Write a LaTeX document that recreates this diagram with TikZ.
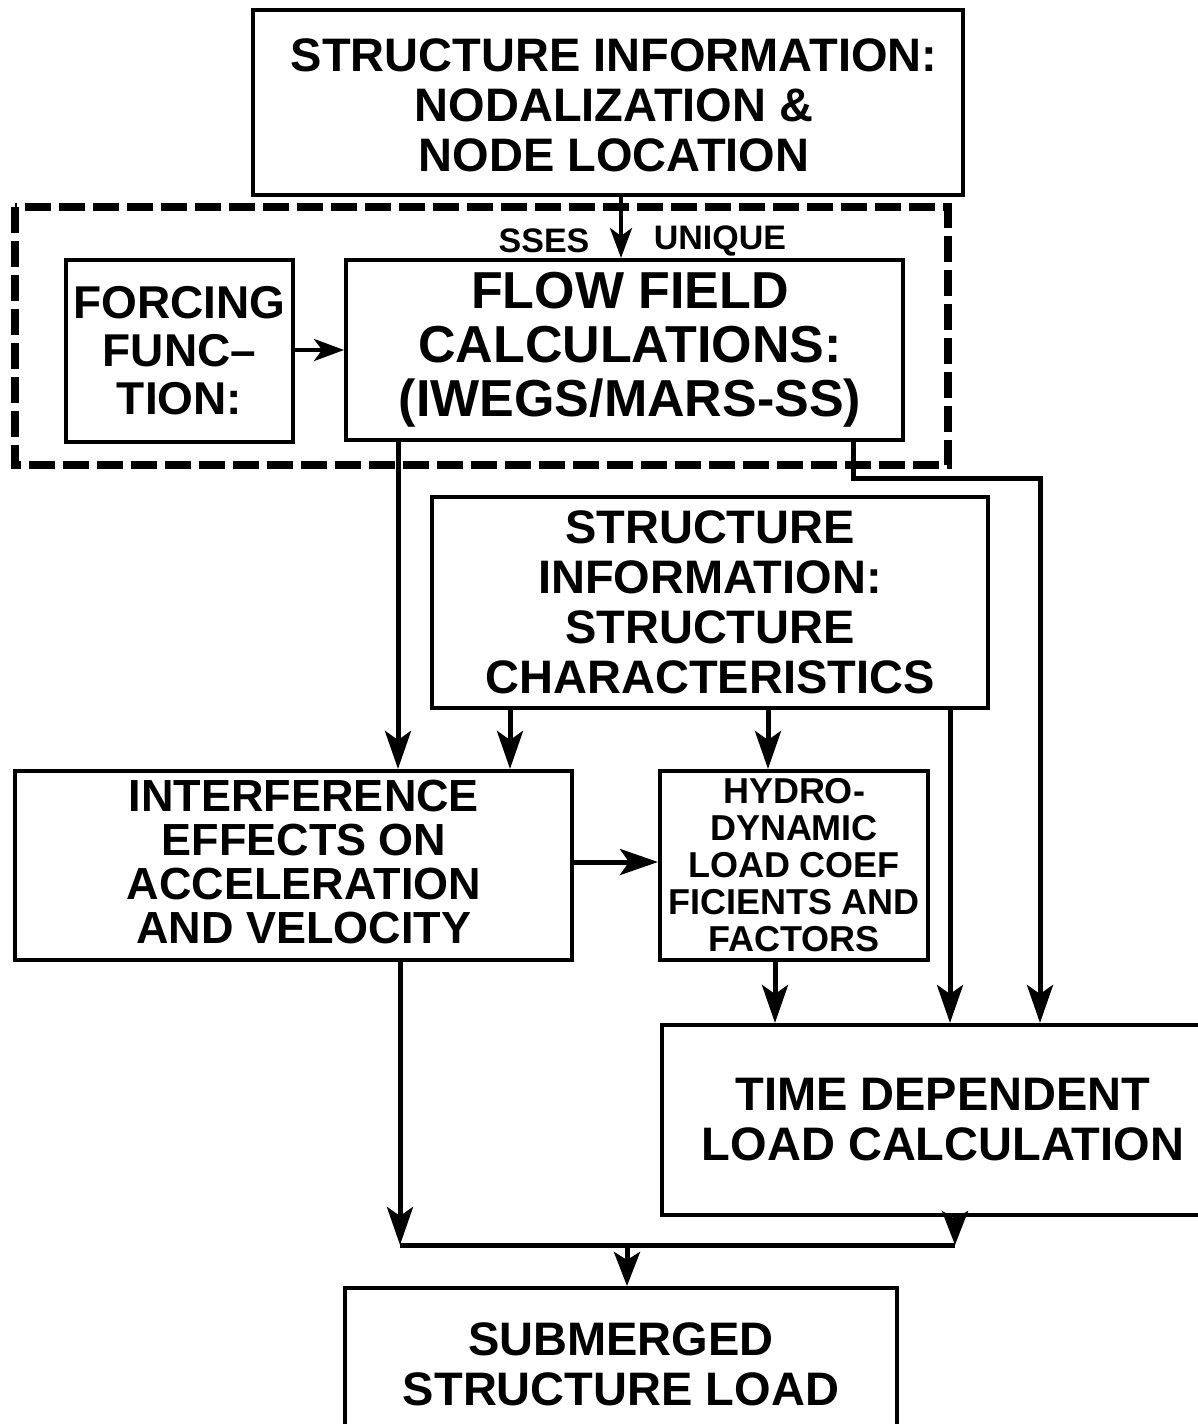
\documentclass[tikz,border=0pt]{standalone}
\usepackage{fontspec}
\setmainfont{Liberation Sans}
\usetikzlibrary{arrows.meta}
\begin{document}
\begin{tikzpicture}[x=1pt,y=-1pt,
  box/.style={draw, line width=4pt, align=center, inner sep=0pt},
  arr/.style={line width=5pt, -{Stealth[length=38pt,width=26pt,inset=9pt]}},
  shortarr/.style={line width=5pt, -{Stealth[length=34pt,width=26pt,inset=8pt]}},
  smallarr/.style={line width=4pt, -{Stealth[length=30pt,width=22pt,inset=8pt]}},
  ln/.style={line width=5pt},
  dashbox/.style={line width=8pt, dash pattern=on 26pt off 8pt},
  fA/.style={font=\fontsize{47}{50}\selectfont\bfseries},
  fB/.style={font=\fontsize{52}{54}\selectfont\bfseries},
  fC/.style={font=\fontsize{45}{44}\selectfont\bfseries},
  fD/.style={font=\fontsize{36}{37}\selectfont\bfseries},
  fE/.style={font=\fontsize{46}{48}\selectfont\bfseries},
  fS/.style={font=\fontsize{34}{36}\selectfont\bfseries}]
\useasboundingbox (0,0) rectangle (1198,1424);
\clip (0,0) rectangle (1198,1424);

% boxes
\node[box, minimum width=710pt, minimum height=185pt] (top) at (608,102.5) {};
\node[fA, align=center, inner sep=0pt] (toptext) at (614,105)
  {STRUCTURE INFORMATION:\\NODALIZATION \&\\NODE LOCATION};
\node[box, fE, minimum width=227pt, minimum height=182pt] (force) at (179.5,351)
  {FORCING\\FUNC–\\TION:};
\node[box, minimum width=557pt, minimum height=180pt] (flow) at (624.5,350) {};
\node[fB, align=center, inner sep=0pt] (flowtext) at (630,350)
  {FLOW FIELD\\CALCULATIONS:\\(IWEGS/MARS-SS)};
\node[box, fA, minimum width=556pt, minimum height=211pt] (chr) at (710,602.5)
  {STRUCTURE\\INFORMATION:\\STRUCTURE\\CHARACTERISTICS};
\node[box, minimum width=557pt, minimum height=189pt] (intf) at (293.5,865.5) {};
\node[fC, align=center, inner sep=0pt] (intftext) at (304,862)
  {INTERFERENCE\\EFFECTS ON\\ACCELERATION\\AND VELOCITY};
\node[box, fD, minimum width=268pt, minimum height=189pt] (hyd) at (794,865.5)
  {HYDRO-\\DYNAMIC\\LOAD COEF\\FICIENTS AND\\FACTORS};
\node[box, fA, minimum width=562pt, minimum height=190pt] (time) at (943,1120)
  {TIME DEPENDENT\\LOAD CALCULATION};
\node[box, fA, minimum width=552pt, minimum height=152pt] (sub) at (621,1364)
  {SUBMERGED\\STRUCTURE LOAD};

% dashed SSES unique region
\draw[dashbox] (15,207) rectangle (948,465);
\node[fS, inner sep=0pt] (sses) at (544,241) {SSES};
\node[fS, inner sep=0pt] (uniq) at (720,241) {UNIQUE};

% coordinates
\coordinate (c1) at (621,0);
\coordinate (c2) at (398,0);
\coordinate (c3) at (853,478);
\coordinate (c4) at (1040,478);
\coordinate (c5) at (510,0);
\coordinate (c6) at (768,0);
\coordinate (c7) at (950,0);
\coordinate (c8) at (775,0);
\coordinate (mL) at (400,1245);
\coordinate (mR) at (955,1245);
\coordinate (mC) at (627,1245);

% connectors
\draw[smallarr] (top.south -| c1) -- (flow.north -| c1);
\draw[smallarr] (force.east |- 0,350) -- (flow.west |- 0,350);
\draw[arr] (flow.south -| c2) -- (intf.north -| c2);
\draw[arr] (flow.south -| c3) -- (c3) -- (c4) -- (time.north -| c4);
\draw[arr] (chr.south -| c5) -- (intf.north -| c5);
\draw[arr] (chr.south -| c6) -- (hyd.north -| c6);
\draw[arr] (chr.south -| c7) -- (time.north -| c7);
\draw[arr] (intf.east |- 0,862) -- (hyd.west |- 0,862);
\draw[arr] (hyd.south -| c8) -- (time.north -| c8);
\draw[arr] (intf.south -| mL) -- (mL);
\draw[shortarr] (time.south -| mR) -- (mR);
\draw[ln] (mL) -- (mR);
\draw[shortarr] (mC) -- (sub.north -| mC);
\end{tikzpicture}
\end{document}
